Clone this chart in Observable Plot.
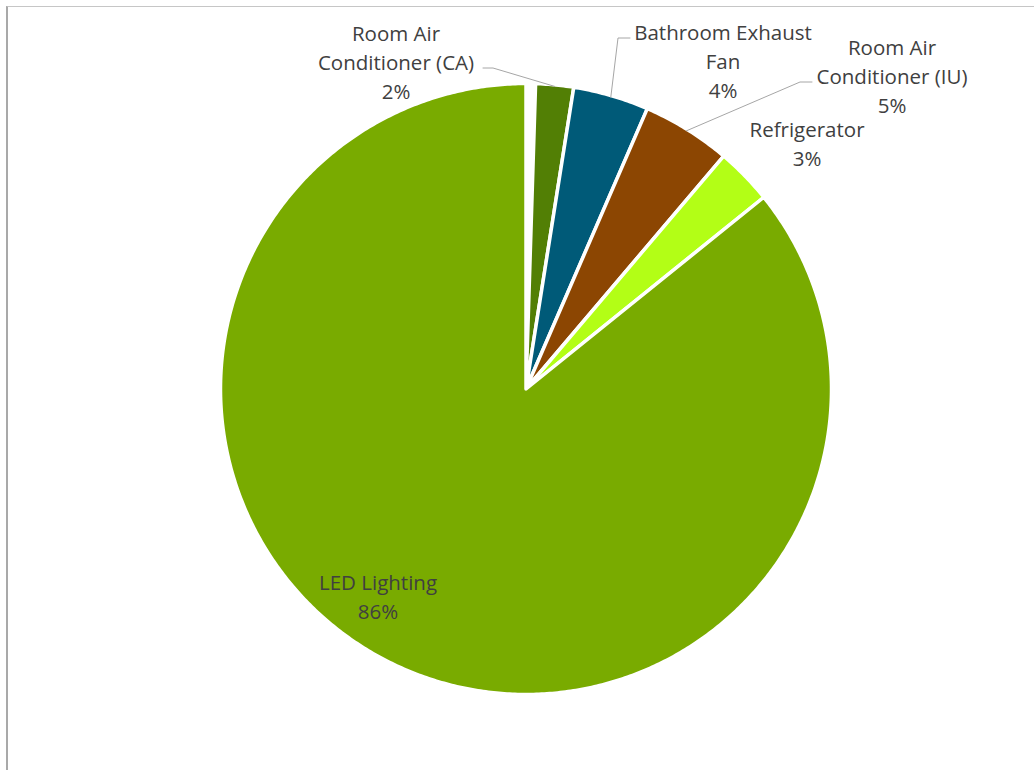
<!DOCTYPE html>
<html><head><meta charset="utf-8">
<script src="https://cdn.jsdelivr.net/npm/d3@7"></script>
<script src="https://cdn.jsdelivr.net/npm/@observablehq/plot@0.6"></script>
<style>
body{margin:0;background:#fff;}
#wrap{position:relative;width:1034px;height:770px;overflow:hidden;background:#fff;}
#frame{position:absolute;left:6px;top:6px;right:-2px;bottom:-2px;border-left:2px solid #a9a9a9;border-top:1px solid #c6c6c6;}
#chart{position:absolute;left:0;top:0;}
</style></head><body>
<div id="wrap"><div id="frame"></div><div id="chart"></div></div>
<script>
// ---- data ----
const categories = ["(gap)", "Room Air Conditioner (CA)", "Bathroom Exhaust Fan", "Room Air Conditioner (IU)", "Refrigerator", "LED Lighting"];
const values = [0.5, 2.0, 4.0, 4.7, 3.0, 85.8];
const labelNames = ["", "Room Air\nConditioner (CA)", "Bathroom Exhaust\nFan", "Room Air\nConditioner (IU)", "Refrigerator", "LED Lighting"];
const colors = ["#ffffff", "#527f05", "#005a78", "#8c4602", "#b3fe16", "#79ab00"];

// ---- layout (pixels relative to pie centre) ----
const W = 1034, H = 770;
const R = 305.5, CX = 525.5, CY = 388.5;
const labelOffset = [null, [-130, -328], [197, -329], [366, -314], [281, -247], [-148, 206]];
const leaderStart = [null, [-43, -321], [104, -351], [286, -307], null, null];
const leaderElbow = [null, [-33, -321], [92, -351], [274, -307], null, null];

// ---- geometry derived from the values ----
const total = d3.sum(values);
let cum = 0;
const slices = values.map((v, i) => {
  const a0 = cum / total * 2 * Math.PI;
  cum += v;
  const a1 = cum / total * 2 * Math.PI;
  return {i, name: categories[i], value: v, a0, a1, mid: (a0 + a1) / 2};
});
const pt = a => [Math.sin(a), -Math.cos(a)];
function sliceRing(s) {
  const n = Math.max(2, Math.ceil((s.a1 - s.a0) / (Math.PI / 360)));
  const ring = [[0, 0]];
  for (let k = 0; k <= n; k++) ring.push(pt(s.a0 + (s.a1 - s.a0) * k / n));
  ring.push([0, 0]);
  return ring;
}
const sliceFeatures = slices.map(s => ({
  type: "Feature",
  properties: {name: s.name, color: colors[s.i]},
  geometry: {type: "Polygon", coordinates: [sliceRing(s)]}
}));
// projection domain: the whole drawing area, in pie-radius units
const x0 = -CX / R, x1 = (W - CX) / R, y0 = -CY / R, y1 = (H - CY) / R;
const pageRect = {type: "Polygon", coordinates: [[[x0, y0], [x1, y0], [x1, y1], [x0, y1], [x0, y0]]]};

const labels = slices.filter(s => labelNames[s.i]).map(s => ({
  x: labelOffset[s.i][0] / R,
  y: labelOffset[s.i][1] / R,
  text: labelNames[s.i] + "\n" + Math.round(s.value) + "%"
}));
const leaders = slices.filter(s => leaderStart[s.i]).map(s => ({
  type: "Feature", properties: {},
  geometry: {type: "LineString", coordinates: [
    [leaderStart[s.i][0] / R, leaderStart[s.i][1] / R],
    [leaderElbow[s.i][0] / R, leaderElbow[s.i][1] / R],
    pt(s.mid).map(c => c * 0.995)
  ]}
}));

const chart = Plot.plot({
  width: W,
  height: H,
  margin: 0,
  projection: {type: "identity", domain: pageRect},
  style: {background: "transparent", fontFamily: "'Open Sans', sans-serif"},
  marks: [
    Plot.geo(sliceFeatures, {fill: d => d.properties.color, stroke: "#ffffff", strokeWidth: 3.5, strokeLinejoin: "round"}),
    Plot.geo(leaders, {stroke: "#a6a6a6", strokeWidth: 1, fill: "none"}),
    Plot.text(labels, {x: "x", y: "y", text: "text", fill: "#404040", fontSize: 20.5, lineHeight: 1.42, fontFamily: "'Open Sans', sans-serif"})
  ]
});
document.getElementById("chart").append(chart);
</script>
</body></html>
